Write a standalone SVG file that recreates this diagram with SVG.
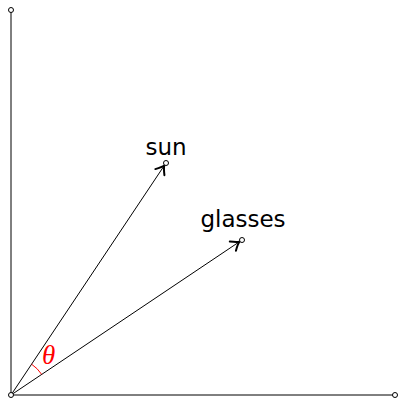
<svg xmlns="http://www.w3.org/2000/svg" width="398" height="398" viewBox="0 0 398 398">
<style>
.ax{stroke:#000;stroke-width:1;fill:none}
.pt{fill:#fff;stroke:#000;stroke-width:1}
.tip{fill:none;stroke:#000;stroke-width:2;stroke-linecap:round;stroke-linejoin:round}
.lbl{font-family:"DejaVu Sans",sans-serif;font-size:23px;fill:#000;text-anchor:middle}
</style>
<rect width="398" height="398" fill="#fff"/>
<g id="connectors">
<line class="ax" x1="11" y1="395" x2="11" y2="10"/>
<line class="ax" x1="11" y1="395" x2="395" y2="395"/>
<line class="ax" x1="11" y1="395" x2="164.3" y2="165.5"/>
<line class="ax" x1="11" y1="395" x2="239.5" y2="241.7"/>
<path class="tip" transform="translate(164.3,165.5) rotate(-56.25)" d="M -8,-5.5 Q -2.5,-0.8 0,0 Q -2.5,0.8 -8,5.5"/>
<path class="tip" transform="translate(239.5,241.7) rotate(-33.86)" d="M -8,-5.5 Q -2.5,-0.8 0,0 Q -2.5,0.8 -8,5.5"/>
<path d="M 41.7 374.4 A 37 37 0 0 0 31.6 364.2" fill="none" stroke="red" stroke-width="1"/>
</g>
<g id="origin"><circle class="pt" cx="11" cy="395" r="2.5"/></g>
<g id="ytop"><circle class="pt" cx="11" cy="10" r="2.5"/></g>
<g id="xright"><circle class="pt" cx="395" cy="395" r="2.5"/></g>
<g id="sun"><circle class="pt" cx="166" cy="163" r="2.5"/><text class="lbl" x="166" y="155">sun</text></g>
<g id="glasses"><circle class="pt" cx="242" cy="240" r="2.5"/><text class="lbl" x="243" y="227">glasses</text></g>
<g id="theta"><text x="42" y="364" font-family="Liberation Serif,serif" font-style="italic" font-size="27" fill="red">θ</text></g>
</svg>
